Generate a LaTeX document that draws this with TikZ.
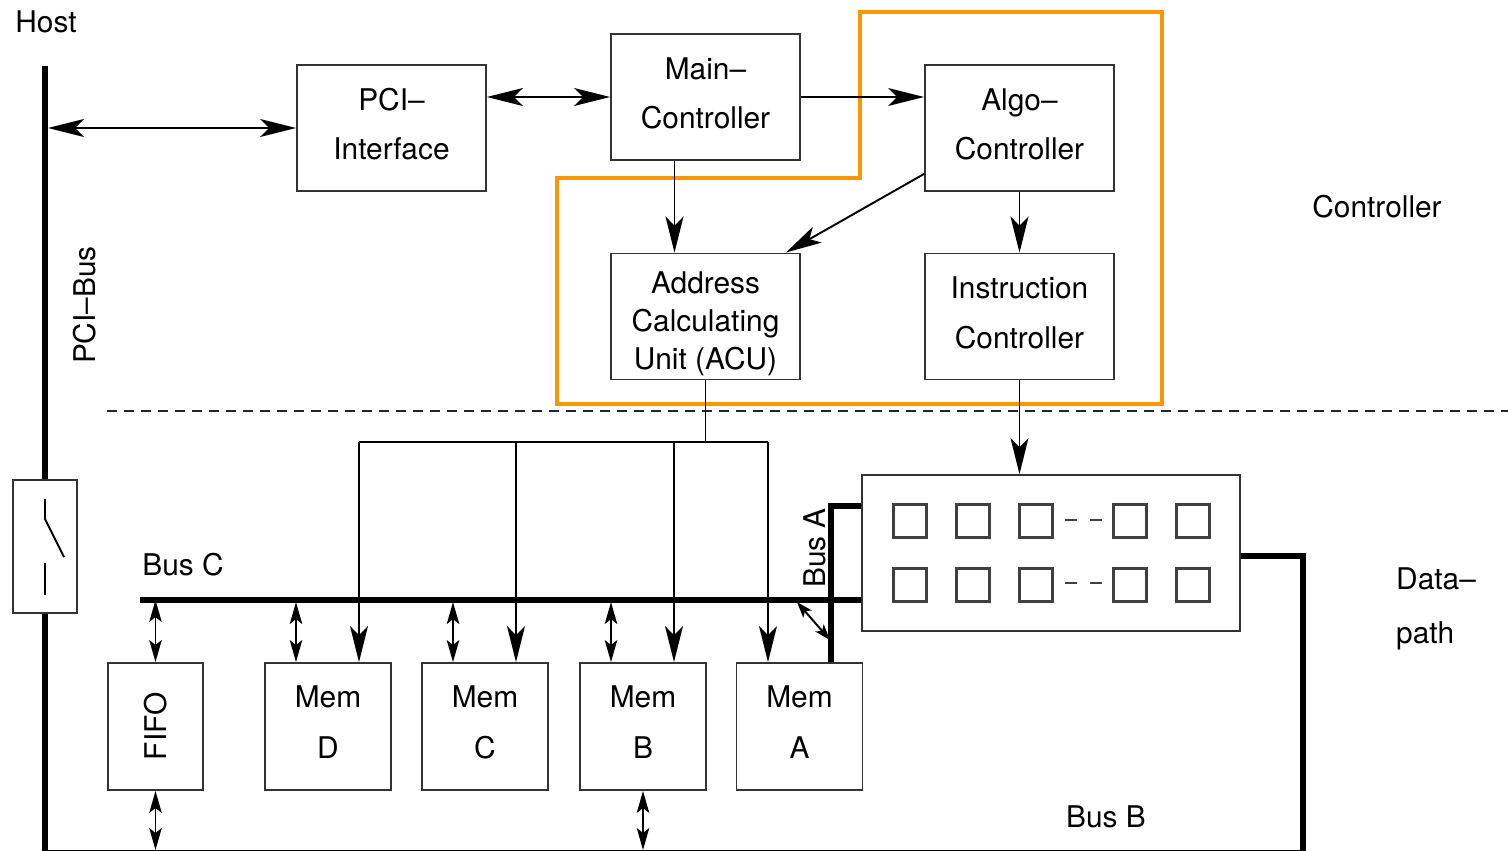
\documentclass[tikz,border=0pt]{standalone}
\usepackage{fontspec}
\setmainfont{TeX Gyre Heros}
\usetikzlibrary{arrows.meta,positioning,calc}
\definecolor{ctrlorange}{RGB}{250,150,0}
\newcommand{\padlo}{\rule[-4.5pt]{0pt}{4.5pt}}
\newcommand{\padhi}{\rule{0pt}{20.5pt}}

\begin{document}
\begin{tikzpicture}[x=0.02cm,y=-0.02cm,>={Stealth[length=0.72cm,width=0.36cm,inset=0.18cm]},
  every node/.style={font=\fontsize{17}{20}\selectfont},
  unit/.style={draw=black!80,line width=1.1pt,minimum width=3.78cm,minimum height=2.52cm,
    align=center,inner sep=0pt,font=\fontsize{17}{28}\selectfont},
  mem/.style={unit,minimum width=2.52cm,minimum height=2.54cm,font=\fontsize{17}{29}\selectfont},
  wire/.style={draw=black,line width=1.1pt},
  bus/.style={line width=3.4pt},
  dbl/.style={wire,{Stealth[length=0.44cm,width=0.25cm,inset=0.1cm]}-{Stealth[length=0.44cm,width=0.25cm,inset=0.1cm]}},
  dblshort/.style={wire,{Stealth[length=0.32cm,width=0.22cm,inset=0.08cm]}-{Stealth[length=0.32cm,width=0.22cm,inset=0.08cm]}}]
  \useasboundingbox (0,0) rectangle (1508,851);

  % controller
  \node[unit] (pci) at (391.5,128) {PCI–\\Interface\padlo};
  \node[unit] (main) at (705.5,97) {Main–\\Controller\padlo};
  \node[unit] (algo) at (1019.5,128) {Algo–\\Controller\padlo};
  \node[unit,font=\fontsize{17}{21.5}\selectfont] (acu) at (705.5,316.5) {\padhi Address\\Calculating\\Unit (ACU)};
  \node[unit] (instr) at (1019.5,316.5) {Instruction\\Controller\padlo};

  \draw[ctrlorange,line width=2.3pt] (860,12) -- (1162,12) -- (1162,404) -- (557,404)
    -- (557,178) -- (860,178) -- cycle;
  \draw[wire,draw=black!85,dash pattern=on 0.2cm off 0.14cm] (107,411) -- (1508,411);

  % host side
  \node (host) at (46,22) {Host};
  \node[rotate=90] (pcibus) at (85,305) {PCI–Bus};
  \draw[bus] (45,66) -- (45,853);
  \node[draw=black!80,line width=1.1pt,fill=white,minimum width=1.28cm,minimum height=2.66cm] (sw) at (45,546.5) {};
  \draw[wire] (45,499) -- (45,519) -- (64,557) (45,563) -- (45,595);

  \coordinate (hostpt) at (48,128);
  \draw[wire,<->] (hostpt) -- (pci.west);
  \draw[wire,<->] (pci.east |- main.west) -- (main.west);
  \draw[wire,->] (main.east) -- (algo.west |- main.east);
  \draw[wire,->] ($(main.south)+(-31,0)$) -- ($(acu.north)+(-31,0)$);
  \draw[wire,->] ($(algo.south west)+(0,-18)$) -- ($(acu.north east)+(-15,0)$);
  \draw[wire,->] (algo.south) -- (instr.north);

  % data path
  \node[unit,minimum width=7.56cm,minimum height=3.12cm] (reg) at (1051,553) {};
  \foreach \x in {910,973,1036,1130,1193}
    \foreach \y in {521,585}
      \draw[draw=black!75,line width=1.3pt] (\x-16.5,\y-16.5) rectangle (\x+16.5,\y+16.5);
  \foreach \y in {520,583}
    \draw[wire,draw=black!75] (1065,\y) -- (1077,\y) (1090,\y) -- (1102,\y);
  \draw[wire,->] (instr.south) -- (instr.south |- reg.north);

  \node[unit,minimum width=1.9cm,minimum height=2.54cm] (fifo) at (155.5,726.5) {};
  \node[rotate=90] (fifotxt) at (fifo) {FIFO};
  \node[mem] (memD) at (328,726.5) {Mem\\D\padlo};
  \node[mem] (memC) at (485,726.5) {Mem\\C\padlo};
  \node[mem] (memB) at (643,726.5) {Mem\\B\padlo};
  \node[mem] (memA) at (799.5,726.5) {Mem\\A\padlo};

  \coordinate (busC) at (0,600);
  \coordinate (busB) at (0,850);
  \coordinate (acubus) at (0,443);

  % buses
  \node (busCtxt) at (183,565) {Bus C};
  \draw[bus] (140,600) -- (reg.west |- busC);
  \node[rotate=90] (busAtxt) at (815,548) {Bus A};
  \draw[bus] ($(reg.west)+(0,-47)$) -| ($(memA.north)+(31.5,0)$);
  \node (busBtxt) at (1106,817) {Bus B};
  \draw[bus] ($(reg.east)+(0,3)$) -| (1303,853) -- (45,853);

  \draw[wire] (acu.south) -- (acu.south |- acubus);
  \draw[wire] ($(memD.north)+(31,-220)$) -- ($(memA.north)+(-31.5,-220)$);
  \draw[dbl] (fifo.north |- busC) -- (fifo.north);
  \foreach \m in {D,C,B} {
    \draw[dbl] ($(mem\m.north)+(-32,-60)$) -- ($(mem\m.north)+(-32,0)$);
    \draw[wire,->] ($(mem\m.north)+(31,-220)$) -- ($(mem\m.north)+(31,0)$);
  }
  \draw[wire,->] ($(memA.north)+(-31.5,-220)$) -- ($(memA.north)+(-31.5,0)$);
  \coordinate (cA) at (797,602);
  \coordinate (aC) at (830,640);
  \draw[dblshort] (cA) -- (aC);
  \draw[dbl] (fifo.south) -- (fifo.south |- busB);
  \draw[dbl] (memB.south) -- (memB.south |- busB);

  \node (ctrltxt) at (1377,207) {Controller};
  \node[align=left,anchor=west,font=\fontsize{17}{31}\selectfont] (dptxt) at (1390,609) {Data–\\path};
\end{tikzpicture}
\end{document}
